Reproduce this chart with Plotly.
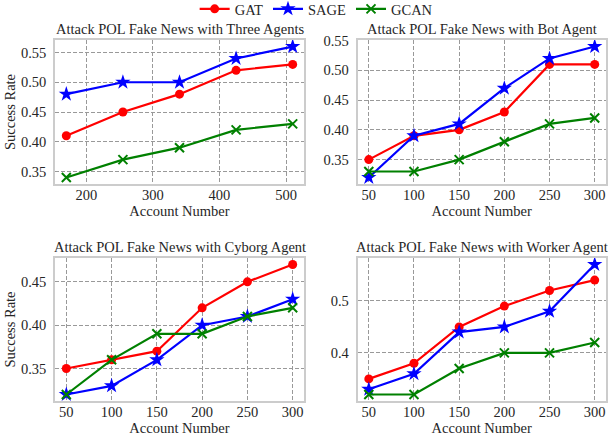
import plotly.graph_objects as go

# ---------------- data ----------------
x_three = [170, 255, 340, 425, 510]
x_acc = [50, 100, 150, 200, 250, 300]

three_gat = [0.41, 0.45, 0.48, 0.52, 0.53]
three_sage = [0.48, 0.50, 0.50, 0.54, 0.56]
three_gcan = [0.34, 0.37, 0.39, 0.42, 0.43]

bot_gat = [0.35, 0.39, 0.40, 0.43, 0.51, 0.51]
bot_sage = [0.32, 0.39, 0.41, 0.47, 0.52, 0.54]
bot_gcan = [0.33, 0.33, 0.35, 0.38, 0.41, 0.42]

cyborg_gat = [0.35, 0.36, 0.37, 0.42, 0.45, 0.47]
cyborg_sage = [0.32, 0.33, 0.36, 0.40, 0.41, 0.43]
cyborg_gcan = [0.32, 0.36, 0.39, 0.39, 0.41, 0.42]

worker_gat = [0.35, 0.38, 0.45, 0.49, 0.52, 0.54]
worker_sage = [0.33, 0.36, 0.44, 0.45, 0.48, 0.57]
worker_gcan = [0.32, 0.32, 0.37, 0.40, 0.40, 0.42]

titles = [
    "Attack POL Fake News with Three Agents",
    "Attack POL Fake News with Bot Agent",
    "Attack POL Fake News with Cyborg Agent",
    "Attack POL Fake News with Worker Agent",
]
series_names = ["GAT", "SAGE", "GCAN"]
x_ticks_three = [200, 300, 400, 500]
x_ticks_acc = [50, 100, 150, 200, 250, 300]

# ---------------- style ----------------
W, H = 608, 442
FONT = "Liberation Serif"
FS = 14.5
TXT = "#262626"
colors = {"GAT": "#ff0000", "SAGE": "#0000ff", "GCAN": "#008000"}
markers = {
    "GAT": dict(symbol="circle", size=9, lw=0),
    "SAGE": dict(symbol="star", size=11.5, lw=0),
    "GCAN": dict(symbol="x-thin", size=9, lw=2),
}

def px_x(p):
    return p / W

def px_y(p):
    return 1 - p / H

# plot-area pixel boxes (left, right, top, bottom)
boxes = [
    (55, 304, 40, 184),
    (357.5, 606, 40, 184),
    (55, 304, 258, 401),
    (357.5, 606, 258, 401),
]

panels = [
    (x_three, [three_gat, three_sage, three_gcan]),
    (x_acc, [bot_gat, bot_sage, bot_gcan]),
    (x_acc, [cyborg_gat, cyborg_sage, cyborg_gcan]),
    (x_acc, [worker_gat, worker_sage, worker_gcan]),
]

def pad_range(vals, frac=0.05):
    lo, hi = min(vals), max(vals)
    d = (hi - lo) * frac
    return [lo - d, hi + d]

fig = go.Figure()
layout = dict(
    width=W, height=H,
    margin=dict(l=0, r=0, t=0, b=0, autoexpand=False),
    paper_bgcolor="white", plot_bgcolor="white",
    font=dict(family=FONT, size=FS, color=TXT),
    showlegend=True,
    legend=dict(
        orientation="h", x=0.52, y=1.016, xanchor="center", yanchor="top",
        font=dict(family=FONT, size=FS, color=TXT),
        bgcolor="rgba(0,0,0,0)", itemwidth=30, tracegroupgap=0,
    ),
)
annotations = []

for i, (xs, ys_list) in enumerate(panels):
    l, r, t, b = boxes[i]
    xa = "xaxis" if i == 0 else f"xaxis{i+1}"
    ya = "yaxis" if i == 0 else f"yaxis{i+1}"
    xref = "x" if i == 0 else f"x{i+1}"
    yref = "y" if i == 0 else f"y{i+1}"
    for name, ys in zip(series_names, ys_list):
        m = markers[name]
        mk = dict(symbol=m["symbol"], size=m["size"], color=colors[name],
                  line=dict(width=m["lw"], color=colors[name]))
        fig.add_trace(go.Scatter(
            x=xs, y=ys, mode="lines+markers", name=name,
            line=dict(color=colors[name], width=2.2),
            marker=mk, xaxis=xref, yaxis=yref,
            showlegend=(i == 0), legendgroup=name,
        ))
    all_y = [v for ys in ys_list for v in ys]
    yr = pad_range(all_y)
    xr = pad_range(xs)
    xticks = x_ticks_three if i == 0 else x_ticks_acc
    if i == 3:
        ytickvals = [0.4, 0.5]
        yfmt = ".1f"
    else:
        ytickvals = [round(0.30 + 0.05 * k, 2) for k in range(0, 7)]
        yfmt = ".2f"
    layout[xa] = dict(
        domain=[px_x(l), px_x(r)], range=xr, anchor=yref,
        tickvals=xticks, tickfont=dict(size=FS, family=FONT, color=TXT),
        showgrid=True, gridcolor="#999999", griddash="4px,2px", gridwidth=1,
        showline=True, linecolor="#cccccc", linewidth=1.6, mirror=True,
        zeroline=False, ticks="", ticklabelstandoff=-3, automargin=False,
        title=dict(text="Account Number", font=dict(size=FS, family=FONT, color=TXT), standoff=3),
    )
    layout[ya] = dict(
        domain=[px_y(b), px_y(t)], range=yr, anchor=xref,
        tickvals=ytickvals, tickformat=yfmt,
        tickfont=dict(size=FS, family=FONT, color=TXT),
        showgrid=True, gridcolor="#999999", griddash="4px,2px", gridwidth=1,
        showline=True, linecolor="#cccccc", linewidth=1.6, mirror=True,
        zeroline=False, ticks="", ticklabelstandoff=4, automargin=False,
    )
    if i in (0, 2):
        layout[ya]["title"] = dict(text="Success Rate", font=dict(size=FS, family=FONT, color=TXT), standoff=2)
    annotations.append(dict(
        text=titles[i], x=px_x((l + r) / 2), y=px_y(t - 1),
        xref="paper", yref="paper", xanchor="center", yanchor="bottom",
        showarrow=False, font=dict(size=FS, family=FONT, color=TXT),
    ))

layout["annotations"] = annotations
fig.update_layout(**layout)
fig.write_html("out.html")
